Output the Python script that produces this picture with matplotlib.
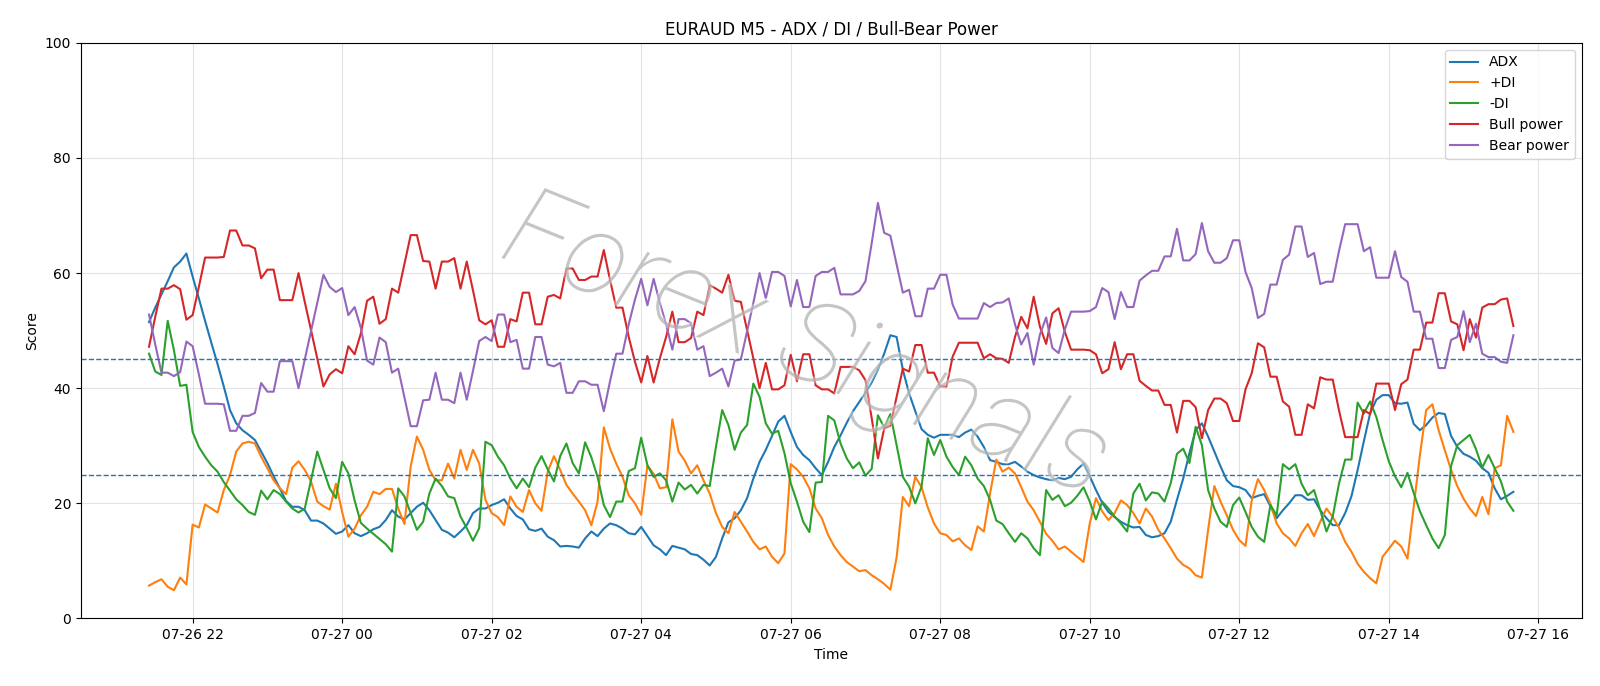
import matplotlib
matplotlib.use("Agg")
import matplotlib.pyplot as plt
import matplotlib.dates as mdates
import matplotlib.patheffects as pe
import pandas as pd

start_time = "2024-07-26 21:25"
n_points = 220

adx = [51.5, 54, 56.3, 58.6, 61, 62, 63.4, 59.4, 55.6, 51.7, 47.9, 44.2, 40.3, 36.2, 33.9, 32.7, 31.9, 31, 29, 27,
       24.7, 22.6, 20.4, 19.4, 19.4, 18.8, 17, 17, 16.5, 15.6, 14.7, 15.1, 16.2, 14.8, 14.3, 14.8, 15.5, 15.9, 17.1, 18.8,
       17.7, 17.2, 18.3, 19.4, 20.1, 18.8, 17.1, 15.4, 14.9, 14.1, 15.1, 16.2, 18.3, 19.1, 19.1, 19.7, 20.1, 20.7, 19.1, 17.8,
       17.2, 15.5, 15.2, 15.6, 14.2, 13.6, 12.5, 12.6, 12.5, 12.3, 13.9, 15.1, 14.3, 15.6, 16.5, 16.2, 15.6, 14.8, 14.6, 15.9,
       14.3, 12.7, 12, 11, 12.6, 12.3, 12, 11.2, 11, 10.2, 9.2, 10.7, 13.9, 16.7, 17.4, 18.8, 20.9, 24.3, 27.2, 29.3,
       31.7, 34.2, 35.2, 32.4, 29.8, 28.4, 27.5, 26.1, 24.9, 27.2, 29.8, 31.8, 34.0, 36.0, 37.6, 39.2, 41.0, 43.2, 46.0, 49.2,
       48.9, 43.2, 39.1, 36.0, 32.9, 31.9, 31.4, 31.9, 31.9, 31.9, 31.5, 32.3, 32.8, 31.6, 29.8, 27.5, 27.2, 26.8, 26.8, 27.2,
       26.4, 25.5, 24.9, 24.5, 24.2, 24.0, 24.4, 24.2, 24.6, 25.9, 26.9, 24.7, 22.3, 20.1, 18.5, 17.6, 16.8, 16.2, 15.8, 15.9,
       14.5, 14.1, 14.3, 14.8, 16.8, 20.6, 24.3, 28.7, 32.7, 33.9, 31.6, 29, 26.4, 24, 23, 22.8, 22.3, 20.9, 21.3, 21.6,
       19.5, 17.4, 18.8, 20, 21.4, 21.4, 20.6, 20.7, 18.8, 17.4, 16.2, 16.2, 18.3, 21.2, 25.8, 30.8, 35.6, 38.0, 38.8, 38.8,
       37.4, 37.3, 37.5, 33.8, 32.7, 33.6, 34.9, 35.7, 35.5, 31.7, 29.8, 28.6, 28.1, 27.4, 26.1, 25.3, 22.6, 20.7, 21.3, 22]

plus_di = [5.7, 6.3, 6.8, 5.5, 4.9, 7.1, 5.9, 16.3, 15.8, 19.8, 19.1, 18.4, 22.3, 24.9, 29, 30.4, 30.7, 30.4, 28.1, 26.1,
           24, 22.6, 21.6, 26.2, 27.3, 25.8, 23.8, 20.3, 19.5, 18.9, 23.4, 18.5, 14.2, 15.6, 17.9, 19.4, 22, 21.6, 22.5, 22.5,
           19.1, 16.4, 26.4, 31.6, 29.3, 25.8, 24, 24, 26.9, 24.3, 29.3, 25.8, 29.3, 26.9, 20.6, 18.3, 17.6, 16.2, 21.2, 19.4,
           18.5, 22.3, 20, 18.7, 25.5, 28.2, 25.8, 23.2, 21.7, 20.3, 18.8, 16.2, 20.3, 33.2, 29.5, 26.9, 24.6, 21.4, 20, 18,
           26.6, 25.1, 22.6, 22.8, 34.6, 29, 27.4, 25.2, 26.6, 24, 21.7, 18.3, 15.9, 14.8, 18.5, 16.8, 15.1, 13.3, 12, 12.5,
           10.7, 9.6, 11.3, 26.8, 25.9, 24.6, 22.6, 19.1, 17.4, 14.5, 12.5, 11, 9.8, 9.0, 8.2, 8.4, 7.5, 6.8, 6.0, 5.0,
           10.6, 21.1, 19.5, 24.6, 22.8, 19.3, 16.5, 14.8, 14.5, 13.4, 13.9, 12.7, 11.9, 16, 15.1, 21.7, 27.6, 25.5, 26.2, 25.2,
           22.8, 20.3, 18.8, 16.8, 14.7, 13.5, 12, 12.5, 11.6, 10.7, 9.8, 16.5, 20.9, 18.6, 17.1, 18.3, 20.5, 19.7, 18.3, 16.5,
           19.1, 17.7, 15.4, 13.9, 12.2, 10.4, 9.3, 8.7, 7.5, 7.1, 15.4, 23, 20.3, 17.9, 15.4, 13.6, 12.6, 20.5, 24.2, 22.3,
           19.9, 16.5, 14.8, 13.9, 12.6, 14.8, 16.4, 14.3, 16.8, 19.1, 17.6, 15.8, 13.3, 11.6, 9.5, 8.1, 7.0, 6.1, 10.7, 12.1,
           13.5, 12.5, 10.4, 19.4, 28.4, 36.2, 37.2, 32.7, 29.2, 25.8, 23, 20.8, 19.1, 17.8, 21.1, 18.1, 26.1, 26.6, 35.2, 32.4]

minus_di = [46, 42.9, 42.3, 51.7, 46.6, 40.4, 40.6, 32.4, 29.8, 28.1, 26.6, 25.5, 23.7, 22.2, 20.7, 19.7, 18.5, 18, 22.2, 20.7,
            22.3, 21.6, 20.3, 19.1, 18.4, 19.1, 24, 29, 25.8, 22.6, 20.9, 27.2, 25.2, 20.5, 16.6, 15.6, 14.7, 13.8, 12.9, 11.6,
            22.6, 21.2, 18.3, 15.4, 16.8, 21.7, 24.3, 23, 21.2, 20.9, 17.7, 15.7, 13.5, 15.7, 30.7, 30.1, 28.1, 26.6, 24.3, 22.6,
            24.3, 22.8, 26.2, 28.2, 25.9, 23.8, 28.2, 30.4, 27, 25.2, 30.6, 28, 24.6, 19.7, 17.6, 20.3, 20.3, 25.6, 26.1, 31.4,
            26.6, 24.6, 25.2, 24, 20.3, 23.6, 22.4, 23.2, 21.7, 23.2, 23, 29.8, 36.2, 33.6, 29.3, 32.3, 33.6, 40.8, 38.5, 33.9,
            32.1, 32.6, 28.7, 23.5, 20.3, 16.8, 15, 23.6, 23.7, 35.2, 34.4, 30.4, 27.8, 26.1, 27.1, 24.8, 26.0, 35.3, 33.2, 35.5,
            30.1, 24.6, 22.9, 20.0, 22.9, 31.3, 28.4, 31, 28.1, 26.3, 24.9, 28.1, 26.6, 24.3, 23, 20.6, 17, 16.4, 14.8, 13.3,
            14.8, 13.9, 12.2, 11, 22.3, 20.6, 21.4, 19.5, 20.1, 21.3, 22.8, 20.3, 17.2, 20.3, 19.1, 17.7, 16.5, 15.1, 21.7, 23.4,
            20.5, 21.9, 21.7, 20.3, 23.5, 28.6, 29.5, 27, 33.3, 30.1, 22.3, 19.1, 16.8, 15.9, 19.7, 21, 18.5, 15.9, 14.2, 13.3,
            19.7, 17.9, 26.8, 25.9, 26.8, 23.4, 21.4, 22.3, 18.8, 15.1, 17.7, 23.4, 27.6, 27.6, 37.5, 35.6, 37.7, 35.0, 31.0, 27.3,
            24.7, 22.8, 25.3, 21.8, 18.6, 16.2, 13.9, 12.2, 14.5, 26.5, 30.1, 31, 31.9, 29.4, 26.2, 28.4, 26.1, 23.8, 20.3, 18.7]

bull_power = [47.2, 52.4, 57.3, 57.3, 57.9, 57.2, 51.9, 52.7, 57.6, 62.7, 62.7, 62.7, 62.8, 67.4, 67.4, 64.8, 64.8, 64.3, 59.1, 60.6,
              60.6, 55.3, 55.3, 55.3, 60, 55, 50.1, 45.2, 40.3, 42.4, 43.3, 42.6, 47.3, 45.9, 49.5, 55.2, 55.9, 51.2, 52, 57.3,
              56.6, 61.6, 66.6, 66.6, 62.1, 62, 57.3, 62, 62, 62.6, 57.3, 62, 57, 51.8, 51.1, 51.8, 47.2, 47.2, 52, 51.6,
              56.6, 56.6, 51.1, 51.1, 55.9, 56.2, 55.6, 60.8, 60.8, 58.8, 58.8, 59.4, 59.4, 64, 58.8, 54, 54, 48.9, 44.6, 41,
              45.6, 41, 45.2, 48.9, 53.3, 48, 48, 48.7, 53.3, 52.7, 57.9, 57.3, 56.6, 59.7, 55.2, 55, 50.1, 45.2, 40, 44.4,
              39.8, 39.8, 40.5, 45.8, 41.2, 45.9, 45.9, 40.5, 39.8, 39.8, 39.1, 43.7, 43.7, 43.7, 43.1, 41.4, 34.8, 27.8, 33, 33.5,
              38.5, 43.4, 42.9, 47.5, 47.5, 42.7, 42.7, 40.3, 40.3, 45.5, 47.9, 47.9, 47.9, 47.9, 45.2, 45.9, 45.2, 45.1, 44.4, 48.9,
              52.4, 50.4, 55.9, 50.7, 47.7, 53, 53.9, 49.8, 46.7, 46.7, 46.7, 46.6, 45.9, 42.6, 43.3, 48, 43.3, 45.9, 45.9, 41.3,
              40.4, 39.6, 39.6, 37.1, 37.1, 32.3, 37.8, 37.8, 36.7, 31.3, 36.2, 38.2, 38.2, 37.4, 34.3, 34.3, 39.8, 42.6, 47.8, 47.1,
              42, 42, 37.7, 36.8, 31.9, 31.9, 37.2, 36.5, 41.9, 41.5, 41.5, 36.2, 31.5, 31.5, 31.5, 36.2, 35.5, 40.8, 40.8, 40.8,
              36.2, 40.7, 41.5, 46.7, 46.7, 51.4, 51.4, 56.5, 56.5, 51.6, 51.1, 46.6, 52, 48.8, 54, 54.6, 54.6, 55.4, 55.6, 50.8]

bear_power = [52.8, 47.6, 42.7, 42.7, 42.1, 42.8, 48.1, 47.3, 42.4, 37.3, 37.3, 37.3, 37.2, 32.6, 32.6, 35.2, 35.2, 35.7, 40.9, 39.4,
              39.4, 44.7, 44.7, 44.7, 40, 45, 49.9, 54.8, 59.7, 57.6, 56.7, 57.4, 52.7, 54.1, 50.5, 44.8, 44.1, 48.8, 48, 42.7,
              43.4, 38.4, 33.4, 33.4, 37.9, 38, 42.7, 38, 38, 37.4, 42.7, 38, 43, 48.2, 48.9, 48.2, 52.8, 52.8, 48, 48.4,
              43.4, 43.4, 48.9, 48.9, 44.1, 43.8, 44.4, 39.2, 39.2, 41.2, 41.2, 40.6, 40.6, 36, 41.2, 46, 46, 51.1, 55.4, 59,
              54.4, 59, 54.8, 51.1, 46.7, 52, 52, 51.3, 46.7, 47.3, 42.1, 42.7, 43.4, 40.3, 44.8, 45, 49.9, 54.8, 60, 55.6,
              60.2, 60.2, 59.5, 54.2, 58.8, 54.1, 54.1, 59.5, 60.2, 60.2, 60.9, 56.3, 56.3, 56.3, 56.9, 58.6, 65.2, 72.2, 67, 66.5,
              61.5, 56.6, 57.1, 52.5, 52.5, 57.3, 57.3, 59.7, 59.7, 54.5, 52.1, 52.1, 52.1, 52.1, 54.8, 54.1, 54.8, 54.9, 55.6, 51.1,
              47.6, 49.6, 44.1, 49.3, 52.3, 47, 46.1, 50.2, 53.3, 53.3, 53.3, 53.4, 54.1, 57.4, 56.7, 52, 56.7, 54.1, 54.1, 58.7,
              59.6, 60.4, 60.4, 62.9, 62.9, 67.7, 62.2, 62.2, 63.3, 68.7, 63.8, 61.8, 61.8, 62.6, 65.7, 65.7, 60.2, 57.4, 52.2, 52.9,
              58, 58, 62.3, 63.2, 68.1, 68.1, 62.8, 63.5, 58.1, 58.5, 58.5, 63.8, 68.5, 68.5, 68.5, 63.8, 64.5, 59.2, 59.2, 59.2,
              63.8, 59.3, 58.5, 53.3, 53.3, 48.6, 48.6, 43.5, 43.5, 48.4, 48.9, 53.4, 48, 51.2, 46, 45.4, 45.4, 44.6, 44.4, 49.2]

thresholds = [25, 45]
title = "EURAUD M5 - ADX / DI / Bull-Bear Power"
watermark = "Forex Signals"

times = pd.date_range(start_time, periods=n_points, freq="5min")

fig = plt.figure(figsize=(16, 6.86), dpi=100)
ax = fig.add_axes([0.0505, 0.0985, 0.9380, 0.8390])

ax.plot(times, adx, color="C0", lw=1.5, label="ADX")
ax.plot(times, plus_di, color="C1", lw=1.5, label="+DI")
ax.plot(times, minus_di, color="C2", lw=1.5, label="-DI")
ax.plot(times, bull_power, color="C3", lw=1.5, label="Bull power")
ax.plot(times, bear_power, color="C4", lw=1.5, label="Bear power")
for t in thresholds:
    ax.axhline(t, color="C0", ls="--", lw=1)

ax.set_ylim(0, 100)
ax.grid(True, color="#dddddd", alpha=0.8, lw=0.8)
ax.xaxis.set_major_locator(mdates.HourLocator(byhour=range(0, 24, 2)))
ax.xaxis.set_major_formatter(mdates.DateFormatter("%m-%d %H"))
ax.set_title(title, fontsize=12)
ax.set_xlabel("Time")
ax.set_ylabel("Score")
ax.legend(loc="upper right")

ax.text(0.483, 0.47, watermark, transform=ax.transAxes, fontsize=82,
        rotation=-22, ha="center", va="center", color="#a8a8a8", alpha=0.55,
        family=["Roboto", "DejaVu Sans"], fontstyle="italic", fontweight=100,
        zorder=5,
        path_effects=[pe.withStroke(linewidth=3, foreground="white", alpha=0.35)])

fig.savefig("out.png", dpi=100)
